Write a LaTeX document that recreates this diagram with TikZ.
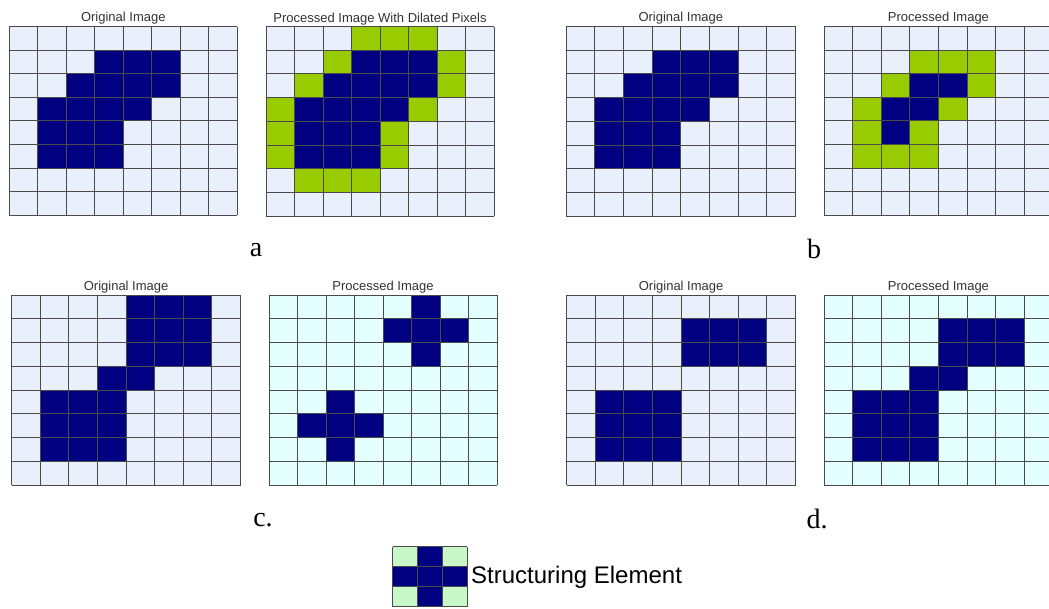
\documentclass[tikz,border=0pt]{standalone}
\usepackage{fontspec}
\setmainfont{Liberation Serif}
\newfontfamily\arialf{Liberation Sans}
\definecolor{navy}{HTML}{000080}
\definecolor{lav}{HTML}{EAF0FB}
\definecolor{lcyan}{HTML}{E3FFFF}
\definecolor{lime}{HTML}{99CC00}
\definecolor{mint}{HTML}{C8F8C8}
\definecolor{gline}{HTML}{4A4A4A}
\definecolor{ttlc}{HTML}{333333}
\tikzset{
  gridline/.style={draw=gline, line width=0.9pt},
  ttl/.style={font=\arialf\fontsize{13}{15}\selectfont, text=ttlc, inner sep=0pt},
  lbl/.style={font=\fontsize{28}{32}\selectfont, inner sep=0pt},
  selbl/.style={font=\arialf\fontsize{24}{27}\selectfont, inner sep=0pt, anchor=west}
}
% #1 x0, #2 y0, #3 cw, #4 ch, #5 colour, #6 list r/c
\newcommand{\mycells}[6]{%
  \foreach \r/\c in {#6} {\fill[#5] ({#1+\c*#3},{#2+\r*#4}) rectangle ++(#3,#4);}}
% #1 x0, #2 y0, #3 cw, #4 ch, #5 ncols, #6 nrows
\newcommand{\mylines}[6]{%
  \foreach \i in {0,...,#5} {\draw[gridline] ({#1+\i*#3},#2) -- ++(0,{#6*#4});}
  \foreach \j in {0,...,#6} {\draw[gridline] (#1,{#2+\j*#4}) -- ++({#5*#3},0);}}
\newcommand{\mybg}[5]{\fill[#5] (#1,#2) rectangle ++({8*#3},{8*#4});}
\begin{document}
\begin{tikzpicture}[x=1pt,y=-1pt]
\useasboundingbox (0,0) rectangle (1049,608);
\fill[white] (0,0) rectangle (1049,608);
% ---------- a: original
\mybg{9.3}{26.5}{28.5}{23.6}{lav}
\mycells{9.3}{26.5}{28.5}{23.6}{navy}{1/3,1/4,1/5,2/2,2/3,2/4,2/5,3/1,3/2,3/3,3/4,4/1,4/2,4/3,5/1,5/2,5/3}
\mylines{9.3}{26.5}{28.5}{23.6}{8}{8}
\node[ttl] (t1) at (123.3,18) {Original Image};
% ---------- a: processed
\mybg{266}{26.5}{28.5}{23.7}{lav}
\mycells{266}{26.5}{28.5}{23.7}{navy}{1/3,1/4,1/5,2/2,2/3,2/4,2/5,3/1,3/2,3/3,3/4,4/1,4/2,4/3,5/1,5/2,5/3}
\mycells{266}{26.5}{28.5}{23.7}{lime}{0/3,0/4,0/5,1/2,1/6,2/1,2/6,3/0,3/5,4/0,4/4,5/0,5/4,6/1,6/2,6/3}
\mylines{266}{26.5}{28.5}{23.7}{8}{8}
\node[ttl] (t2) at (380,19) {Processed Image With Dilated Pixels};
% ---------- b: original
\mybg{566}{26.5}{28.7}{23.7}{lav}
\mycells{566}{26.5}{28.7}{23.7}{navy}{1/3,1/4,1/5,2/2,2/3,2/4,2/5,3/1,3/2,3/3,3/4,4/1,4/2,4/3,5/1,5/2,5/3}
\mylines{566}{26.5}{28.7}{23.7}{8}{8}
\node[ttl] (t3) at (680.8,18) {Original Image};
% ---------- b: processed
\mybg{824}{26.5}{28.6}{23.6}{lav}
\mycells{824}{26.5}{28.6}{23.6}{navy}{2/3,2/4,3/2,3/3,4/2}
\mycells{824}{26.5}{28.6}{23.6}{lime}{1/3,1/4,1/5,2/2,2/5,3/1,3/4,4/1,4/3,5/1,5/2,5/3}
\mylines{824}{26.5}{28.6}{23.6}{8}{8}
\node[ttl] (t4) at (938.4,18) {Processed Image};
% ---------- c: original
\mybg{11.7}{295}{28.6}{23.75}{lav}
\mycells{11.7}{295}{28.6}{23.75}{navy}{0/4,0/5,0/6,1/4,1/5,1/6,2/4,2/5,2/6,3/3,3/4,4/1,4/2,4/3,5/1,5/2,5/3,6/1,6/2,6/3}
\mylines{11.7}{295}{28.6}{23.75}{8}{8}
\node[ttl] (t5) at (126.1,287) {Original Image};
% ---------- c: processed
\mybg{269}{295}{28.5}{23.75}{lcyan}
\mycells{269}{295}{28.5}{23.75}{navy}{0/5,1/4,1/5,1/6,2/5,4/2,5/1,5/2,5/3,6/2}
\mylines{269}{295}{28.5}{23.75}{8}{8}
\node[ttl] (t6) at (383,287) {Processed Image};
% ---------- d: original
\mybg{566.7}{295}{28.6}{23.75}{lav}
\mycells{566.7}{295}{28.6}{23.75}{navy}{1/4,1/5,1/6,2/4,2/5,2/6,4/1,4/2,4/3,5/1,5/2,5/3,6/1,6/2,6/3}
\mylines{566.7}{295}{28.6}{23.75}{8}{8}
\node[ttl] (t7) at (681.1,287) {Original Image};
% ---------- d: processed
\mybg{824}{295}{28.6}{23.75}{lcyan}
\mycells{824}{295}{28.6}{23.75}{navy}{1/4,1/5,1/6,2/4,2/5,2/6,3/3,3/4,4/1,4/2,4/3,5/1,5/2,5/3,6/1,6/2,6/3}
\mylines{824}{295}{28.6}{23.75}{8}{8}
\node[ttl] (t8) at (938.4,287) {Processed Image};
% ---------- panel labels
\node[lbl] (la) at (256,250) {a};
\node[lbl] (lb) at (814,249) {b};
\node[lbl] (lc) at (263,520) {c.};
\node[lbl] (ld) at (817,519) {d.};
% ---------- structuring element
\fill[mint] (392.7,546.7) rectangle ++(74.7,60);
\mycells{392.7}{546.7}{24.9}{20}{navy}{0/1,1/0,1/1,1/2,2/1}
\foreach \i in {0,...,3} {\draw[gridline] ({392.7+\i*24.9},546.7) -- ++(0,60);}
\foreach \j in {0,...,3} {\draw[gridline] (392.7,{546.7+\j*20}) -- ++(74.7,0);}
\node[selbl] (se) at (471,577) {Structuring Element};
\end{tikzpicture}
\end{document}
